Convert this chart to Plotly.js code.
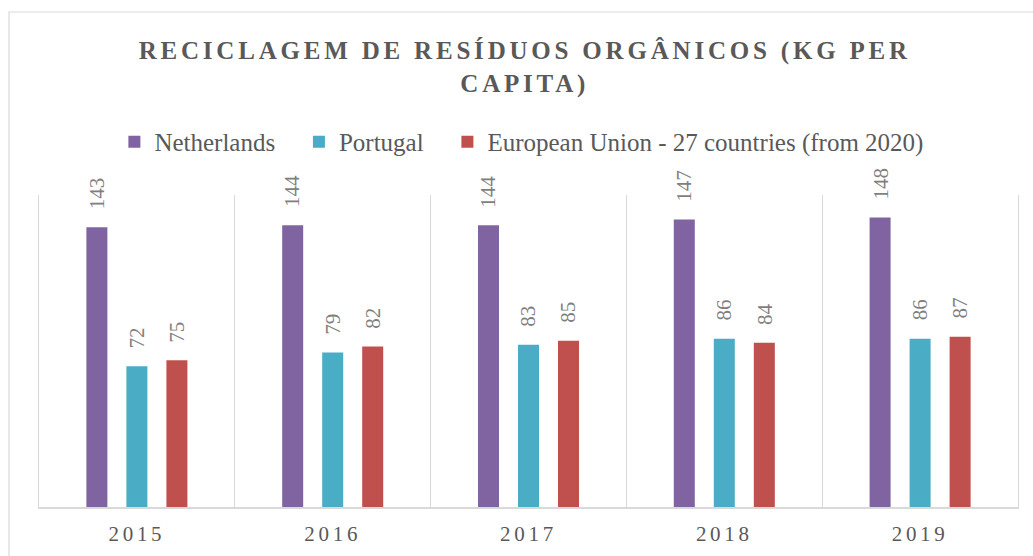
<!DOCTYPE html>
<html>
<head>
<meta charset="utf-8">
<script src="https://cdn.plot.ly/plotly-3.0.1.min.js"></script>
<style>
  html, body { margin: 0; padding: 0; background: #fff; }
  #chart { width: 1033px; height: 556px; }
  .gtitle { letter-spacing: 3.8px; }
  .xtick text { letter-spacing: 3.7px; }
</style>
</head>
<body>
<div id="chart"></div>
<script>
const categories = ["2015", "2016", "2017", "2018", "2019"];
const seriesNames = ["Netherlands", "Portugal", "European Union - 27 countries (from 2020)"];
const netherlands = [143, 144, 144, 147, 148];
const portugal = [72, 79, 83, 86, 86];
const eu27 = [75, 82, 85, 84, 87];
const seriesValues = [netherlands, portugal, eu27];
const seriesColors = ["#8064A2", "#4BACC6", "#C0504D"];

const W = 1033, H = 556;
const margin = {l: 39, r: 15, t: 195, b: 49, pad: 0};
const bargap = 0.387;
const bargroupgap = 0.475;
const pad = "\u00a0\u00a0\u00a0";

const traces = seriesValues.map((vals, i) => ({
  type: "bar",
  name: seriesNames[i] + (i < seriesValues.length - 1 ? pad : ""),
  x: categories,
  y: vals,
  marker: {color: seriesColors[i]},
  hoverinfo: "skip"
}));

// data labels, rotated, above each bar (x as category serial index)
const plotW = W - margin.l - margin.r;
const catW = plotW / categories.length;
const slot = catW * (1 - bargap) / seriesValues.length;
const annotations = [];
seriesValues.forEach((vals, i) => {
  vals.forEach((v, j) => {
    annotations.push({
      x: j, y: v, xref: "x", yref: "y",
      text: String(v), showarrow: false, textangle: -90,
      xanchor: "center", yanchor: "bottom",
      xshift: (i - (seriesValues.length - 1) / 2) * slot,
      yshift: 16,
      font: {family: "Liberation Serif, serif", size: 21, color: "#7f7f7f"}
    });
  });
});

const layout = {
  width: W, height: H,
  margin: margin,
  paper_bgcolor: "#ffffff",
  plot_bgcolor: "#ffffff",
  barmode: "group",
  bargap: bargap,
  bargroupgap: bargroupgap,
  showlegend: true,
  title: {
    text: "RECICLAGEM DE RESÍDUOS ORGÂNICOS (KG PER<br>CAPITA)",
    font: {family: "Liberation Serif, serif", size: 25, color: "#595959", weight: "bold"},
    x: 0.508, xanchor: "center",
    y: 0.893, yanchor: "middle", yref: "container"
  },
  legend: {
    orientation: "h",
    x: 0.077, xanchor: "left",
    y: 1.17, yanchor: "middle",
    font: {family: "Liberation Serif, serif", size: 25, color: "#595959"},
    bgcolor: "rgba(0,0,0,0)",
    traceorder: "normal"
  },
  xaxis: {
    type: "category",
    range: [-0.5, categories.length - 0.5],
    tickson: "boundaries",
    showgrid: true, gridcolor: "#d9d9d9", gridwidth: 1,
    showline: true, linecolor: "#d9d9d9", linewidth: 1.5,
    ticks: "",
    ticklabelstandoff: 7,
    tickfont: {family: "Liberation Serif, serif", size: 21, color: "#595959"},
    fixedrange: true
  },
  yaxis: {
    range: [0, 159.5],
    showgrid: false, zeroline: false,
    showticklabels: false, ticks: "",
    showline: true, mirror: true, linecolor: "#d9d9d9", linewidth: 1,
    fixedrange: true
  },
  shapes: [{
    type: "rect", xref: "paper", yref: "paper", layer: "below",
    x0: (9 - margin.l) / plotW, x1: 1.1,
    y0: -0.3, y1: (H - margin.b - 12) / (H - margin.t - margin.b),
    line: {color: "#d9d9d9", width: 1.2},
    fillcolor: "rgba(0,0,0,0)"
  }],
  annotations: annotations
};

Plotly.newPlot("chart", traces, layout, {displayModeBar: false, staticPlot: true});
</script>
</body>
</html>
